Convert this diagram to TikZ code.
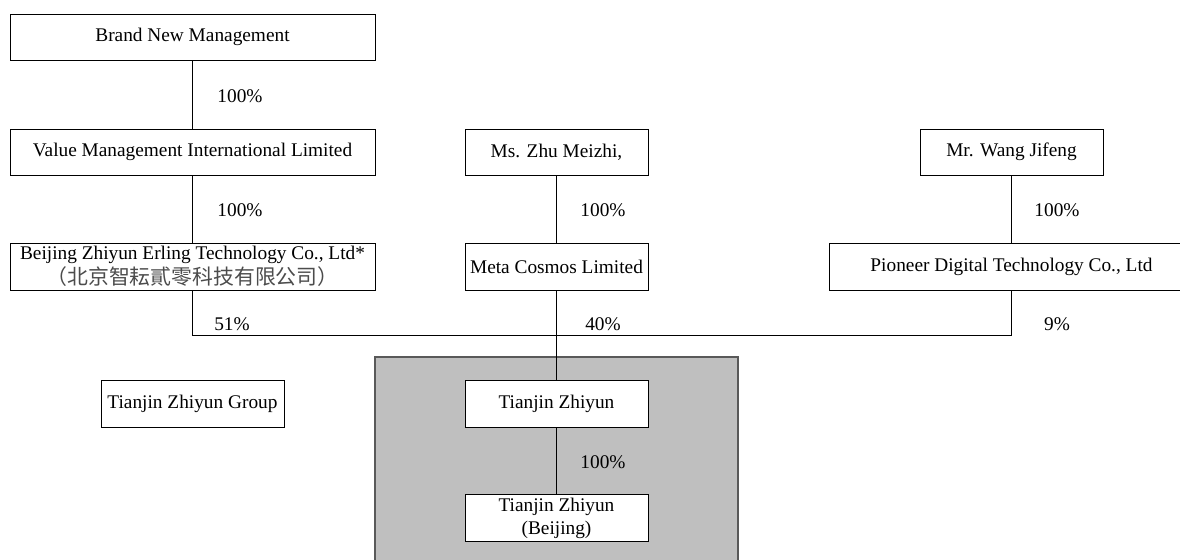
\documentclass[tikz,border=0pt]{standalone}
\usepackage{fontspec}
\setmainfont{Liberation Serif}
\newfontfamily\cjk{Noto Sans CJK SC}[Scale=1.08]
\usepackage{tikz}
\usetikzlibrary{positioning,calc}

\tikzset{
  entity/.style={draw, fill=white, inner sep=0pt, minimum height=46\pxu, align=center},
  wide/.style={entity, minimum width=365\pxu},
  narrow/.style={entity, minimum width=183\pxu},
  pct/.style={inner sep=0pt},
  link/.style={line width=0.5pt}
}
\newlength{\pxu}
\setlength{\pxu}{0.02cm}

\begin{document}
\begin{tikzpicture}[x=0.02cm, y=-0.02cm, font=\fontsize{11}{13}\selectfont]
            \useasboundingbox (0,0) rectangle (1180,559);
            % group shading
            \fill[black!25] (375,357) rectangle (738,580);
            \draw[black!65, line width=0.8pt] (375,580) -- (375,357) -- (738,357) -- (738,580);

            % Boxes
            \node[wide] (bnm) at (192.5,37) {Brand New Management};
            \node[wide] (vmil) at (192.5,152) {Value Management International Limited};
            \node[wide, minimum height=47\pxu] (bzet) at (192.5,266.5) {Beijing Zhiyun Erling Technology Co., Ltd*\\[1pt]{\cjk\color{black!70}（北京智耘貳零科技有限公司）}};

            \node[narrow] (zhu) at (556.5,152) {Ms. Zhu Meizhi,};
            \node[narrow, minimum height=47\pxu] (meta) at (556.5,266.5) {Meta Cosmos Limited};

            \node[narrow] (wang) at (1011.5,152) {Mr. Wang Jifeng};
            \node[wide, minimum height=47\pxu] (pioneer) at (1011.5,266.5) {Pioneer Digital Technology Co., Ltd};

            \node[narrow, minimum height=47\pxu] (group) at (192.5,404) {Tianjin Zhiyun Group};
            \node[narrow, minimum height=47\pxu] (tz) at (556.5,404) {Tianjin Zhiyun};
            \node[narrow, minimum height=47\pxu] (tzb) at (556.5,518) {Tianjin Zhiyun\\(Beijing)};

            \coordinate (jn) at (556.5,335);

            % Percentages
            \node[pct] (p1) at (240,96) {100\%};
            \node[pct] (p2) at (240,210) {100\%};
            \node[pct] (p3) at (603,210) {100\%};
            \node[pct] (p4) at (1057,210) {100\%};
            \node[pct] (p5) at (232,324) {51\%};
            \node[pct] (p6) at (603,324) {40\%};
            \node[pct] (p7) at (1057,324) {9\%};
            \node[pct] (p8) at (603,462) {100\%};

            % Links
            \draw[link] (bnm) -- (vmil);
            \draw[link] (vmil) -- (bzet);
            \draw[link] (zhu) -- (meta);
            \draw[link] (wang) -- (pioneer);
            \draw[link] (bzet.south) |- (jn) -| (pioneer.south);
            \draw[link] (meta) -- (tz);
            \draw[link] (tz) -- (tzb);
        \end{tikzpicture}
\end{document}
